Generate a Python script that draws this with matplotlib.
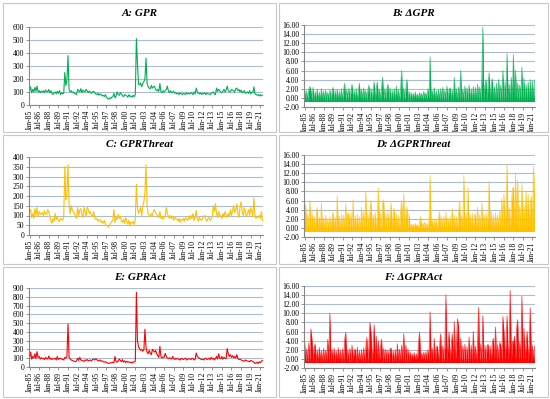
import matplotlib
matplotlib.use("Agg")
import matplotlib.pyplot as plt
import numpy as np
from matplotlib.patches import Rectangle
from matplotlib.ticker import FormatStrFormatter

plt.rcParams["font.family"] = ["Liberation Serif", "DejaVu Serif"]
plt.rcParams["axes.unicode_minus"] = False

# bimonthly observations, Jan-85 .. May-21 (6 per year)
gpr = [
    110, 140, 95, 120, 100, 135,
    105, 145, 100, 110, 95, 105,
    100, 110, 95, 115, 105, 100,
    120, 95, 110, 90, 80, 95,
    100, 85, 105, 90, 110, 80,
    95, 85, 90, 250, 150, 190,
    380, 120, 100, 110, 95, 100,
    90, 85, 80, 120, 110, 100,
    125, 95, 115, 105, 100, 120,
    110, 95, 105, 100, 90, 100,
    105, 95, 85, 80, 90, 75,
    85, 80, 70, 75, 65, 80,
    60, 50, 45, 55, 50, 60,
    65, 90, 55, 70, 100, 80,
    75, 95, 85, 70, 65, 80,
    75, 70, 60, 80, 65, 70,
    60, 75, 65, 80, 510, 320,
    160, 155, 170, 140, 165, 180,
    200, 360, 170, 140, 130, 125,
    150, 130, 140, 145, 120, 110,
    120, 105, 165, 100, 95, 110,
    100, 110, 120, 145, 105, 95,
    110, 95, 100, 105, 90, 95,
    85, 90, 80, 95, 85, 80,
    90, 85, 80, 95, 85, 90,
    85, 95, 90, 80, 100, 85,
    130, 100, 90, 85, 95, 80,
    90, 85, 95, 80, 90, 85,
    85, 80, 90, 95, 100, 85,
    80, 130, 105, 120, 110, 100,
    95, 105, 120, 100, 115, 145,
    110, 105, 100, 120, 115, 110,
    100, 125, 130, 110, 120, 100,
    115, 95, 100, 110, 90, 95,
    100, 90, 110, 85, 100, 95,
    140, 85, 80, 75, 80, 70,
    80, 70, 75,
]

d_gpr = [
    2.0, -0.6, 1.5, -0.7, 1.8, 2.5,
    1.6, -0.5, 2.3, -0.7, 1.4, -0.6,
    1.9, -0.7, 1.3, -0.5, 2.0, -0.6,
    1.5, -0.6, 1.7, -0.7, 1.2, -0.5,
    1.8, -0.7, 1.4, 2.3, -0.6, 1.6,
    -0.5, 1.9, -0.7, 1.5, -0.6, 2.0,
    -0.7, 1.6, 3.2, -0.6, 1.8, -0.5,
    2.1, -0.7, 1.5, 3.0, -0.6, 1.7,
    -0.5, 2.0, -0.7, 1.4, 3.2, -0.6,
    1.9, -0.7, 2.2, -0.5, 1.6, -0.6,
    1.5, 2.8, -0.7, 2.0, -0.6, 1.8,
    3.5, -0.7, 2.1, 3.5, -0.6, 1.9,
    -0.7, 2.4, 4.5, -0.6, 2.0, -0.5,
    1.8, 3.0, -0.7, 2.2, -0.6, 1.7,
    -0.5, 2.0, -0.7, 2.6, -0.6, 1.9,
    -0.7, 1.6, 6.0, -0.6, 2.1, -0.5,
    1.8, 4.0, -0.7, 1.5, -0.6, 1.2,
    -0.3, 1.0, -0.2, 1.3, -0.4, 0.9,
    -0.3, 1.2, -0.2, 1.0, -0.4, 1.4,
    -0.2, 1.1, -0.4, 2.0, -0.3, 9.0,
    -0.5, 1.6, -0.4, 2.2, -0.6, 1.5,
    -0.5, 1.8, -0.6, 2.0, -0.5, 2.3,
    -0.6, 1.7, -0.5, 2.6, -0.7, 1.9,
    2.2, -0.6, 1.8, -0.7, 4.5, -0.6,
    2.0, -0.7, 2.4, -0.6, 6.0, -0.5,
    1.9, -0.7, 2.6, -0.6, 2.2, -0.7,
    2.8, -0.6, 2.0, -0.7, 2.5, -0.6,
    2.3, -0.7, 3.0, -0.6, 2.4, -0.8,
    3.8, 15.5, -0.7, 2.6, 4.0, -0.6,
    2.9, 5.5, -0.8, 3.0, 4.2, -0.7,
    2.5, -0.6, 3.2, -0.8, 4.0, -0.7,
    2.8, -0.8, 6.0, -0.7, 3.5, -0.6,
    9.7, -0.8, 3.0, -0.7, 4.5, -0.6,
    9.5, -0.8, 6.0, -0.7, 3.2, -0.6,
    2.8, -0.8, 6.7, -0.7, 4.3, -0.6,
    3.0, -0.8, 3.5, -0.7, 4.0, -0.6,
    3.8, -0.7, 3.9,
]

gpr_threat = [
    120, 130, 90, 110, 85, 135,
    100, 140, 95, 120, 110, 105,
    115, 100, 125, 110, 105, 130,
    120, 95, 75, 60, 85, 70,
    110, 80, 95, 75, 70, 85,
    80, 75, 90, 350, 180, 200,
    360, 160, 110, 150, 130, 120,
    110, 95, 85, 140, 100, 130,
    135, 105, 90, 140, 120, 95,
    145, 130, 110, 120, 100, 95,
    120, 90, 80, 85, 70, 75,
    80, 65, 70, 60, 75, 55,
    50, 45, 40, 55, 60, 70,
    75, 130, 65, 90, 80, 105,
    85, 95, 70, 65, 80, 60,
    90, 70, 55, 75, 50, 65,
    60, 70, 55, 80, 260, 140,
    110, 125, 140, 100, 150, 170,
    220, 360, 150, 110, 100, 95,
    110, 100, 125, 130, 115, 105,
    100, 90, 120, 85, 95, 80,
    90, 100, 140, 110, 95, 85,
    100, 85, 95, 75, 90, 85,
    80, 70, 85, 65, 80, 75,
    85, 70, 90, 80, 75, 95,
    80, 100, 85, 110, 75, 90,
    125, 85, 70, 90, 80, 75,
    85, 95, 100, 80, 70, 85,
    90, 75, 80, 95, 150, 120,
    160, 110, 90, 120, 95, 100,
    85, 110, 95, 120, 100, 90,
    110, 95, 130, 100, 125, 150,
    115, 130, 160, 110, 90, 140,
    170, 120, 100, 140, 115, 95,
    110, 130, 100, 140, 125, 95,
    190, 100, 85, 95, 90, 100,
    85, 120, 75,
]

d_gpr_threat = [
    2.8, 5.0, -0.8, 3.2, -0.7, 6.0,
    -0.8, 3.5, -0.7, 2.6, -0.8, 3.0,
    4.5, -0.8, 2.4, -0.7, 5.5, -0.8,
    2.2, -0.7, 2.8, -0.8, 1.9, -0.7,
    2.5, -0.8, 2.1, 3.5, -0.7, 2.4,
    -0.8, 7.0, -0.7, 2.6, -0.8, 3.0,
    -0.7, 2.8, -0.8, 5.3, -0.7, 3.3,
    2.9, -0.8, 3.4, -0.7, 6.2, -0.8,
    2.7, -0.7, 3.1, -0.8, 2.5, -0.7,
    4.5, -0.8, 3.6, -0.7, 8.0, -0.8,
    3.2, -0.7, 3.9, 6.0, -0.8, 3.0,
    -0.7, 3.5, -0.8, 2.9, 8.8, -0.7,
    3.3, -0.8, 5.5, 6.2, -0.7, 3.1,
    -0.8, 3.6, -0.7, 2.8, 5.5, -0.8,
    3.0, 4.3, -0.7, 3.2, -0.8, 2.7,
    -0.7, 3.4, 6.0, -0.8, 7.5, -0.7,
    2.9, 4.7, -0.8, 3.1, -0.2, 0.9,
    0.1, 0.8, 0.0, 1.0, 0.2, 0.7,
    0.1, 0.9, 2.5, -0.1, 1.1, 0.0,
    1.3, -0.2, 1.0, -0.3, 1.6, 11.5,
    -0.4, 1.8, -0.5, 2.0, -0.4, 1.7,
    -0.6, 2.2, 3.5, -0.5, 2.4, -0.6,
    2.6, -0.7, 3.4, -0.6, 2.2, -0.7,
    2.5, -0.6, 4.3, -0.7, 2.8, -0.6,
    2.4, -0.7, 3.0, 5.8, -0.6, 2.7,
    -0.7, 11.5, -0.6, 3.2, -0.7, 8.8,
    -0.6, 2.9, -0.7, 3.3, -0.6, 2.6,
    3.1, -0.7, 4.6, -0.6, 2.8, -0.7,
    5.5, -0.6, 3.0, -0.7, 3.4, -0.6,
    2.9, 10.2, -0.7, 3.6, -0.6, 3.0,
    -0.7, 3.3, -0.6, 2.9, -0.7, 3.8,
    -0.6, 6.5, -0.7, 7.5, -0.6, 4.2,
    14.0, -0.7, 4.5, -0.6, 5.0, 8.5,
    9.0, -0.7, 12.0, -0.6, 10.5, -0.7,
    4.8, -0.6, 9.8, -0.7, 5.2, -0.6,
    8.0, -0.7, 7.5, -0.6, 5.5, 7.0,
    -0.5, 13.5, 7.2,
]

gpr_act = [
    100, 170, 90, 120, 100, 150,
    95, 175, 110, 120, 90, 105,
    95, 100, 85, 110, 95, 90,
    125, 90, 100, 85, 95, 90,
    100, 80, 120, 85, 95, 100,
    90, 85, 80, 110, 100, 120,
    490, 110, 90, 80, 75, 70,
    65, 60, 70, 100, 75, 110,
    80, 75, 70, 65, 80, 75,
    85, 70, 75, 80, 70, 85,
    90, 80, 95, 85, 70, 75,
    80, 65, 70, 60, 55, 60,
    50, 45, 40, 45, 50, 45,
    55, 50, 120, 60, 55, 70,
    90, 75, 60, 85, 55, 70,
    50, 65, 55, 60, 50, 55,
    45, 60, 55, 65, 850, 300,
    230, 210, 190, 200, 180, 195,
    430, 220, 170, 150, 190, 160,
    140, 200, 185, 170, 190, 150,
    130, 110, 235, 120, 100, 115,
    110, 155, 120, 100, 95, 105,
    100, 90, 120, 95, 85, 100,
    90, 95, 85, 80, 100, 90,
    85, 95, 100, 80, 90, 95,
    90, 85, 100, 95, 80, 90,
    160, 120, 110, 100, 90, 85,
    90, 80, 95, 100, 85, 90,
    100, 85, 110, 90, 100, 80,
    95, 120, 90, 150, 100, 95,
    120, 90, 110, 100, 95, 210,
    150, 120, 140, 110, 130, 105,
    120, 100, 140, 95, 85, 90,
    80, 75, 70, 65, 80, 70,
    70, 65, 60, 75, 70, 60,
    55, 40, 45, 55, 40, 60,
    50, 65, 75,
]

d_gpr_act = [
    4.0, -0.7, 2.2, -0.8, 3.5, -0.6,
    6.6, 4.2, -0.7, 2.4, 3.3, -0.8,
    2.0, -0.7, 2.5, -0.6, 1.8, -0.8,
    2.3, -0.7, 1.9, -0.6, 4.3, -0.8,
    10.0, -0.7, 2.1, -0.6, 2.4, -0.8,
    1.8, -0.7, 2.5, -0.6, 1.9, -0.8,
    2.2, -0.7, 4.0, 5.8, -0.6, 2.0,
    -0.8, 2.3, -0.7, 3.0, -0.6, 1.9,
    2.1, -0.8, 2.6, -0.7, 1.8, -0.6,
    2.0, -0.8, 2.4, -0.7, 2.2, 4.7,
    -0.6, 2.5, 8.0, 5.5, -0.8, 2.7,
    7.5, -0.7, 5.0, -0.8, 4.0, -0.6,
    2.6, 4.3, -0.7, 2.3, -0.8, 2.1,
    -0.6, 1.9, -0.7, 2.2, 2.4, -0.8,
    1.8, -0.6, 2.0, -0.7, 3.3, -0.8,
    2.1, -0.6, 3.0, -0.7, 5.5, -0.8,
    3.0, -0.6, 2.2, -0.7, 1.6, -0.3,
    1.2, -0.2, 1.4, -0.3, 1.1, -0.2,
    3.3, 5.8, -0.3, 1.3, -0.2, 1.5,
    -0.3, 1.6, -0.4, 2.0, -0.5, 10.3,
    -0.6, 2.4, -0.7, 4.5, -0.8, 2.6,
    2.8, -0.7, 2.5, 5.5, -0.8, 2.9,
    -0.7, 2.7, 14.0, -0.8, 3.0, 5.8,
    -0.7, 2.8, 5.5, -0.8, 8.2, -0.7,
    3.1, 8.8, 7.0, -0.8, 4.5, -0.7,
    2.9, -0.8, 3.2, -0.7, 2.7, -0.8,
    4.8, -0.7, 3.0, -0.8, 6.0, -0.7,
    2.8, -0.8, 3.1, 11.3, -0.7, 3.3,
    -0.8, 9.5, -0.7, 3.0, -0.8, 2.9,
    3.2, -0.7, 2.8, -0.8, 3.4, 4.5,
    -0.7, 7.0, -0.8, 3.1, -0.7, 3.6,
    3.0, -0.8, 9.3, 6.0, -0.7, 3.5,
    9.5, -0.8, 3.3, 15.0, -0.7, 3.8,
    3.4, 5.0, -0.8, 6.5, 8.6, -0.7,
    3.6, -0.8, 13.7, -0.7, 6.7, -0.8,
    3.2, 6.0, -0.7, 3.4, 11.2, -0.8,
    3.0, -0.7, 2.8,
]

tick_labels = ["Jan-85", "Jul-86", "Jan-88", "Jul-89", "Jan-91", "Jul-92", "Jan-94",
               "Jul-95", "Jan-97", "Jul-98", "Jan-00", "Jul-01", "Jan-03", "Jul-04",
               "Jan-06", "Jul-07", "Jan-09", "Jul-10", "Jan-12", "Jul-13", "Jan-15",
               "Jul-16", "Jan-18", "Jul-19", "Jan-21"]

W, H = 550, 399
fig = plt.figure(figsize=(W / 100, H / 100), dpi=100)

# panel frames (pixels: x0, y0, x1, y1)
frames = [(3, 3, 276, 132), (279, 3, 548, 132),
          (3, 135, 276, 264), (279, 135, 548, 264),
          (3, 267, 276, 397), (279, 267, 548, 397)]
for x0, y0, x1, y1 in frames:
    fig.patches.append(Rectangle((x0 / W, 1 - y1 / H), (x1 - x0) / W, (y1 - y0) / H,
                                 transform=fig.transFigure, fill=False,
                                 edgecolor="#c8c8c8", linewidth=0.8))

panels = [
    ("A: GPR", gpr, "#00b050", (29, 27, 263, 105), (0, 600, 100), "%d"),
    ("B: \u0394GPR", d_gpr, "#00b050", (304, 25, 535, 107), (-2, 16, 2), "%.2f"),
    ("C: GPRThreat", gpr_threat, "#ffc000", (29, 157, 263, 235), (0, 400, 50), "%d"),
    ("D: \u0394GPRThreat", d_gpr_threat, "#ffc000", (304, 155, 535, 237), (-2, 16, 2), "%.2f"),
    ("E: GPRAct", gpr_act, "#ff0000", (29, 288, 263, 367), (0, 900, 100), "%d"),
    ("F: \u0394GPRAct", d_gpr_act, "#ff0000", (304, 286, 535, 368), (-2, 16, 2), "%.2f"),
]

for i, (title, vals, col, (l, t, r, b), (ymin, ymax, step), fmt) in enumerate(panels):
    ax = fig.add_axes([l / W, 1 - b / H, (r - l) / W, (b - t) / H])
    x = np.arange(len(vals)) * 2
    if fmt == "%d":
        ax.plot(x, vals, color=col, linewidth=0.8)
    else:
        # dense daily-like band: fill under the zigzag so it reads as a solid mass
        ax.fill_between(x, vals, min(vals), color=col, linewidth=0)
        ax.plot(x, vals, color=col, linewidth=0.6, alpha=0.7)
    ax.set_xlim(-1, 437)
    ax.set_ylim(ymin, ymax)
    ax.set_yticks(np.arange(ymin, ymax + step / 2, step))
    ax.yaxis.set_major_formatter(FormatStrFormatter(fmt))
    ax.set_xticks(np.arange(len(tick_labels)) * 18)
    ax.set_xticklabels(tick_labels, rotation=90)
    ax.grid(axis="y", color="#adbcd6", linewidth=0.8)
    ax.set_axisbelow(True)
    for s in ["top", "right"]:
        ax.spines[s].set_visible(False)
    for s in ["left", "bottom"]:
        ax.spines[s].set_color("#868686")
        ax.spines[s].set_linewidth(0.8)
    ax.tick_params(axis="both", labelsize=5.5, length=2, width=0.6,
                   color="#868686", pad=1.5)
    fx0, fy0, fx1, fy1 = frames[i]
    fig.text((fx0 + fx1) / 2 / W, 1 - (fy0 + 10) / H, title, ha="center", va="center",
             fontsize=8, fontweight="bold", fontstyle="italic")

fig.savefig("out.png", dpi=100)
